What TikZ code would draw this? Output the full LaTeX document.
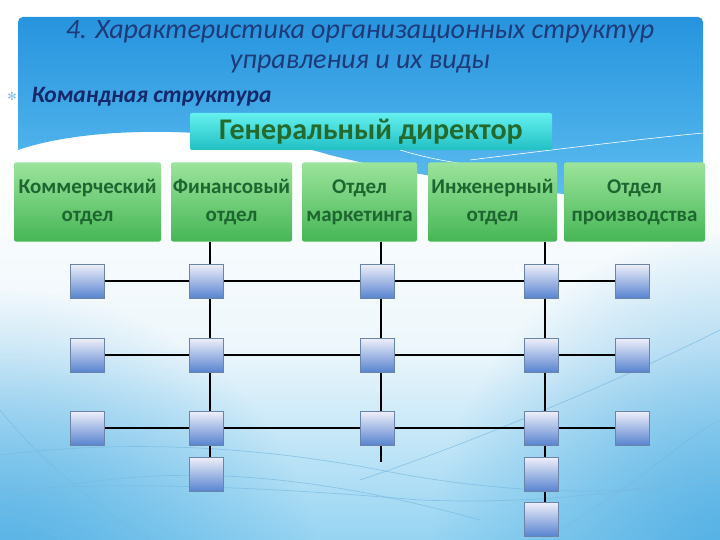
\documentclass[tikz,border=0pt]{standalone}
\usepackage{fontspec}
\setmainfont{Carlito}
\newfontfamily\symfont{DejaVu Sans}
\usetikzlibrary{calc,fadings}
\definecolor{titlec}{HTML}{1F3A78}
\definecolor{subc}{HTML}{14286A}
\definecolor{dirtext}{HTML}{236A2C}
\definecolor{depttext}{HTML}{1E6630}
\definecolor{sqdraw}{HTML}{6A84A8}
\definecolor{dirtop}{RGB}{100,240,238}
\definecolor{dirbot}{RGB}{34,192,196}
\definecolor{depttop}{RGB}{155,228,155}
\definecolor{deptbot}{RGB}{70,182,86}
\definecolor{sqtop}{RGB}{240,240,250}
\definecolor{sqbot}{RGB}{88,132,208}
\definecolor{decoc}{RGB}{120,185,225}
\definecolor{bluetop}{RGB}{38,148,222}
\definecolor{bluebot}{RGB}{95,190,240}
\definecolor{lowbot}{RGB}{150,212,242}
\definecolor{lowmid}{RGB}{238,247,252}
\definecolor{sidec}{RGB}{80,175,228}
\definecolor{bulc}{RGB}{120,190,235}
\tikzfading[name=radfade, inner color=transparent!0, outer color=transparent!100]
\tikzset{
  dirbox/.style={rounded corners=2pt, top color=dirtop, bottom color=dirbot, draw=none, minimum width=362pt, minimum height=37pt, inner sep=0pt},
  deptbox/.style={rounded corners=2pt, top color=depttop, bottom color=deptbot, draw=none, minimum height=79pt, inner sep=0pt, align=center, font=\fontsize{21}{28}\selectfont\bfseries, text=depttext},
  sq/.style={rectangle, minimum width=34pt, minimum height=34pt, inner sep=0pt, top color=sqtop, bottom color=sqbot, draw=sqdraw, line width=0.6pt},
  link/.style={line width=1.8pt, black},
  deco/.style={line width=0.7pt, color=decoc, opacity=0.7}
}
\begin{document}
\begin{tikzpicture}[x=1pt,y=-1pt]
\useasboundingbox (0,0) rectangle (720,540);
% background
\fill[white] (0,0) rectangle (720,540);
\shade[top color=white, bottom color=lowbot, middle color=lowmid] (0,150) rectangle (720,540);
\fill[sidec, path fading=radfade] (0,590) ellipse [x radius=320, y radius=300];
\fill[sidec, path fading=radfade] (730,570) ellipse [x radius=300, y radius=340];
% top blue area
\shade[top color=bluetop, bottom color=bluebot]
  (18,150) [rounded corners=5pt] -- (18,17) -- (703,17) [sharp corners] -- (703,205)
  .. controls (600,200) and (450,185) .. (330,155)
  .. controls (230,125) and (90,125) .. (18,150) -- cycle;
% decorative lines
\draw[deco] (0,455) .. controls (120,440) and (250,445) .. (380,470) .. controls (480,490) and (600,500) .. (720,480);
\draw[deco] (0,490) .. controls (150,480) and (300,490) .. (420,500) .. controls (550,505) and (650,490) .. (720,470);
\draw[deco] (0,410) .. controls (40,460) and (100,510) .. (150,540);
\draw[deco] (0,500) .. controls (150,460) and (300,470) .. (480,520);
\draw[deco] (0,510) .. controls (30,520) and (50,530) .. (60,540);
\draw[deco] (540,540) .. controls (620,500) and (680,440) .. (720,420);
\draw[deco] (360,480) .. controls (480,440) and (620,380) .. (720,330);
\draw[white, line width=0.6pt] (470,160) .. controls (550,150) and (650,138) .. (703,133);
\draw[white, line width=0.6pt] (400,150) .. controls (450,165) and (500,170) .. (540,165);
% title
\node[text=titlec, font=\fontsize{28}{30}\selectfont\itshape, align=center] (title) at (360,47) {4. Характеристика организационных структур\\управления и их виды};
\node[text=bulc, font=\symfont\fontsize{11}{11}\selectfont] (bul) at (12,96) {✻};
\node[text=subc, font=\fontsize{23.5}{24}\selectfont\itshape\bfseries, anchor=west] (sub) at (28,97) {Командная структура};
% director
\node[dirbox, text=dirtext, font=\fontsize{30}{30}\selectfont\bfseries] (dir) at (371,131.5) {Генеральный директор};
% departments
\node[deptbox, minimum width=147pt] (d1) at (87.5,202) {Коммерческий\\отдел};
\node[deptbox, minimum width=121pt] (d2) at (231.5,202) {Финансовый\\отдел};
\node[deptbox, minimum width=115pt] (d3) at (359.5,202) {Отдел\\маркетинга};
\node[deptbox, minimum width=129pt] (d4) at (492.5,202) {Инженерный\\отдел};
\node[deptbox, minimum width=141pt] (d5) at (634.5,202) {Отдел\\производства};
% squares
\foreach \c/\x in {1/87,2/206,3/377,4/541,5/632}{
  \foreach \r/\y in {1/281,2/355,3/428}{
    \coordinate (p\r\c) at (\x,\y);
  }
}
\coordinate (p42) at (206,474);
\coordinate (p44) at (541,474);
\coordinate (p54) at (541,519);
\coordinate (end3) at (381,462);
% links (behind squares)
\foreach \r in {1,2,3}{
  \draw[link] (p\r1) -- (p\r5);
}
\draw[link] ([xshift=4pt]p12 |- d2.south) -- ([xshift=4pt]p42);
\draw[link] ([xshift=4pt]p13 |- d3.south) -- (end3);
\draw[link] ([xshift=4pt]p14 |- d4.south) -- ([xshift=4pt]p54);
\foreach \r in {1,2,3}{
  \foreach \c in {1,2,3,4,5}{
    \node[sq] (s\r\c) at (p\r\c) {};
  }
}
\node[sq] (s42) at (p42) {};
\node[sq] (s44) at (p44) {};
\node[sq] (s54) at (p54) {};
\end{tikzpicture}
\end{document}
